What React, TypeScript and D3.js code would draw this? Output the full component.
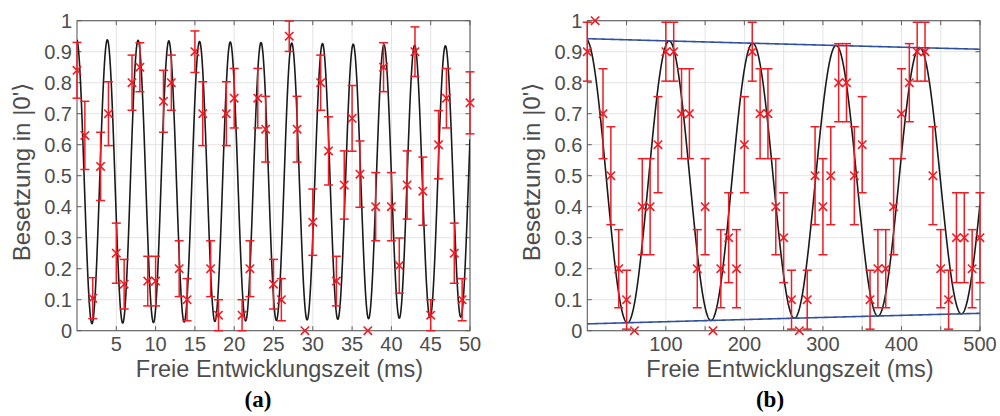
import React from 'react';
import * as d3 from 'd3';

// ---------- Data (a) ----------
const timesA = [0,1,2,3,4,5,6,7,8,9,10,11,12,13,14,15,16,17,18,19,20,21,22,23,24,25,26,27,28,29,30,31,32,33,34,35,36,37,38,39,40,41,42,43,44,45,46,47,48,49,50];
const valuesA = [0.84,0.63,0.105,0.53,0.70,0.25,0.15,0.80,0.85,0.16,0.16,0.74,0.80,0.20,0.10,0.90,0.70,0.20,0.05,0.70,0.75,0.05,0.20,0.75,0.65,0.15,0.10,0.95,0.65,0.0,0.35,0.80,0.58,0.16,0.47,0.685,0.505,0.0,0.40,0.85,0.40,0.21,0.47,0.90,0.45,0.05,0.60,0.75,0.25,0.10,0.735];
const errorsA = [0.09,0.11,0.066,0.11,0.103,0.097,0.08,0.089,0.079,0.08,0.08,0.10,0.089,0.09,0.068,0.067,0.103,0.09,0.05,0.103,0.096,0.05,0.09,0.096,0.106,0.08,0.068,0.049,0.106,0,0.107,0.089,0.11,0.08,0.11,0.106,0.107,0,0.11,0.079,0.11,0.089,0.11,0.08,0.11,0.05,0.11,0.096,0.097,0.068,0.10];
const fitA = { mid: 0.481, amp: 0.459, tau: 1000, period: 3.91, t0: -0.05 };
const xTicksA = [5,10,15,20,25,30,35,40,45,50];
const xLabelsA = [5,10,15,20,25,30,35,40,45,50];

// ---------- Data (b) ----------
const timesB = [0,10,20,30,40,50,60,70,80,90,100,110,120,130,140,150,160,170,180,190,200,210,220,230,240,250,260,270,280,290,300,310,320,330,340,350,360,370,380,390,400,410,420,430,440,450,460,470,480,490,500];
const valuesB = [0.9,1.0,0.7,0.5,0.2,0.1,0.0,0.4,0.4,0.6,0.9,0.9,0.7,0.7,0.2,0.4,0.0,0.2,0.3,0.2,0.6,0.9,0.7,0.7,0.4,0.3,0.1,0.0,0.1,0.5,0.4,0.5,0.8,0.8,0.5,0.6,0.1,0.2,0.2,0.4,0.7,0.8,0.9,0.9,0.5,0.2,0.1,0.3,0.3,0.2,0.3];
const errorsB = [0.095,0,0.145,0.158,0.126,0.095,0,0.155,0.155,0.155,0.095,0.095,0.145,0.145,0.126,0.155,0,0.126,0.145,0.126,0.155,0.095,0.145,0.145,0.155,0.145,0.095,0,0.095,0.158,0.155,0.158,0.126,0.126,0.158,0.155,0.095,0.126,0.126,0.155,0.145,0.126,0.095,0.095,0.158,0.126,0.095,0.145,0.145,0.126,0.145];
const fitB = { mid: 0.482, amp: 0.46, tau: 6500, period: 106.3, t0: -2 };
const xTicksB = [50,100,150,200,250,300,350,400,450,500];
const xLabelsB = [100,200,300,400,500];

const yTicks = [0,0.1,0.2,0.3,0.4,0.5,0.6,0.7,0.8,0.9,1];
const yLabels = ['0','0.1','0.2','0.3','0.4','0.5','0.6','0.7','0.8','0.9','1'];

const FONT = '"Liberation Sans", Arial, Helvetica, sans-serif';
const TXT = '#4d4d4d';
const RED = '#ee1c24';

type Fit = { mid: number; amp: number; tau: number; period: number; t0: number };

function fitValue(f: Fit, t: number) {
  return f.mid + f.amp * Math.exp(-t / f.tau) * Math.cos((2 * Math.PI * (t - f.t0)) / f.period);
}

function Panel(props: {
  id: string; x0: number; x1: number; domainMax: number;
  times: number[]; values: number[]; errors: number[]; fit: Fit;
  xTicks: number[]; xLabels: number[]; envelope: boolean; yLabelX: number; xLabelX: number; caption: string; captionX: number;
}) {
  const { id, x0, x1, domainMax, times, values, errors, fit, xTicks, xLabels, envelope } = props;
  const top = 20.7, bottom = 330.7;
  const x = d3.scaleLinear().domain([0, domainMax]).range([x0, x1]);
  const y = d3.scaleLinear().domain([0, 1]).range([bottom, top]);
  const samples = d3.range(0, 2001).map(i => (i / 2000) * domainMax);
  const line = d3.line<number>().x(t => x(t)).y(t => y(fitValue(fit, t)));
  const upper = d3.line<number>().x(t => x(t)).y(t => y(fit.mid + fit.amp * Math.exp(-t / fit.tau)));
  const lower = d3.line<number>().x(t => x(t)).y(t => y(fit.mid - fit.amp * Math.exp(-t / fit.tau)));
  const tl = 4.5;
  const cap = 4.5;
  const ms = 4.2;
  return (
    <g>
      <defs>
        <clipPath id={id}>
          <rect x={x0} y={top} width={x1 - x0} height={bottom - top} />
        </clipPath>
      </defs>
      <rect x={x0} y={top} width={x1 - x0} height={bottom - top} fill="#ffffff" />
      {/* grid */}
      {xTicks.map(t => (
        <line key={'gx' + t} x1={x(t)} x2={x(t)} y1={top} y2={bottom} stroke="#e4e4e4" strokeWidth={1} />
      ))}
      {yTicks.map(v => (
        <line key={'gy' + v} x1={x0} x2={x1} y1={y(v)} y2={y(v)} stroke="#e4e4e4" strokeWidth={1} />
      ))}
      {/* axes box + ticks */}
      <rect x={x0} y={top} width={x1 - x0} height={bottom - top} fill="none" stroke="#5e5e5e" strokeWidth={1.1} />
      {xTicks.map(t => (
        <g key={'tx' + t}>
          <line x1={x(t)} x2={x(t)} y1={bottom} y2={bottom - tl} stroke="#5e5e5e" />
          <line x1={x(t)} x2={x(t)} y1={top} y2={top + tl} stroke="#5e5e5e" />
        </g>
      ))}
      {yTicks.map(v => (
        <g key={'ty' + v}>
          <line x1={x0} x2={x0 + tl} y1={y(v)} y2={y(v)} stroke="#5e5e5e" />
          <line x1={x1} x2={x1 - tl} y1={y(v)} y2={y(v)} stroke="#5e5e5e" />
        </g>
      ))}
      {/* fit */}
      <path d={line(samples) || ''} fill="none" stroke="#1a1a1a" strokeWidth={1.6} clipPath={`url(#${id})`} />
      {envelope && (
        <g>
          <path d={upper(samples) || ''} fill="none" stroke="#2f4f9f" strokeWidth={1.6} />
          <path d={lower(samples) || ''} fill="none" stroke="#2f4f9f" strokeWidth={1.6} />
        </g>
      )}
      {/* error bars */}
      {times.map((t, i) => {
        const cx = x(t);
        const e = errors[i];
        if (e <= 0) return null;
        const yl = y(Math.max(0, values[i] - e));
        const yh = y(Math.min(1, values[i] + e));
        return (
          <g key={'e' + i} stroke={RED} strokeWidth={1.5}>
            <line x1={cx} x2={cx} y1={yl} y2={yh} />
            <line x1={cx - cap} x2={cx + cap} y1={yl} y2={yl} />
            <line x1={cx - cap} x2={cx + cap} y1={yh} y2={yh} />
          </g>
        );
      })}
      {/* markers */}
      {times.map((t, i) => {
        const cx = x(t);
        const cy = y(values[i]);
        return (
          <g key={'m' + i} stroke={RED} strokeWidth={1.6}>
            <line x1={cx - ms} x2={cx + ms} y1={cy - ms} y2={cy + ms} />
            <line x1={cx - ms} x2={cx + ms} y1={cy + ms} y2={cy - ms} />
          </g>
        );
      })}
      {/* tick labels */}
      {yTicks.map((v, i) => (
        <text key={'ly' + v} x={x0 - 5} y={y(v)} dy="0.36em" textAnchor="end" fontFamily={FONT} fontSize={20} fill={TXT}>
          {yLabels[i]}
        </text>
      ))}
      {xLabels.map(t => (
        <text key={'lx' + t} x={x(t)} y={351} textAnchor="middle" fontFamily={FONT} fontSize={20} fill={TXT}>
          {t}
        </text>
      ))}
      <text x={props.xLabelX} y={377} textAnchor="middle" fontFamily={FONT} fontSize={23.5} fill={TXT}>
        Freie Entwicklungszeit (ms)
      </text>
      <text transform={`translate(${props.yLabelX},172) rotate(-90)`} textAnchor="middle" fontFamily={FONT} fontSize={24} fill={TXT}>
        Besetzung in |0'⟩
      </text>
      <text x={props.captionX} y={407} textAnchor="middle" fontFamily='"Liberation Serif", "Times New Roman", serif' fontWeight="bold" fontSize={23} fill="#000">
        {props.caption}
      </text>
    </g>
  );
}

export default function App() {
  return (
    <svg width={1000} height={416} style={{ position: 'absolute', left: 0, top: 0, background: '#fff' }}>
      <Panel id="clipA" x0={77} x1={470} domainMax={50} times={timesA} values={valuesA} errors={errorsA} fit={fitA}
        xTicks={xTicksA} xLabels={xLabelsA} envelope={false} yLabelX={30} xLabelX={279.5} caption="(a)" captionX={258} />
      <Panel id="clipB" x0={587.3} x1={980} domainMax={500} times={timesB} values={valuesB} errors={errorsB} fit={fitB}
        xTicks={xTicksB} xLabels={xLabelsB} envelope={true} yLabelX={540} xLabelX={790} caption="(b)" captionX={770} />
    </svg>
  );
}
